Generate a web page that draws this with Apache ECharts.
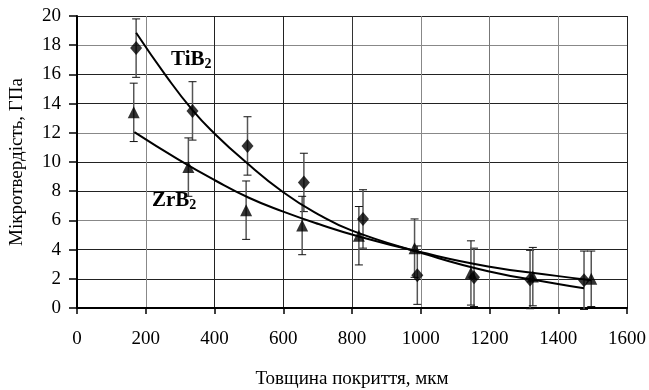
<!DOCTYPE html>
<html>
<head>
<meta charset="utf-8">
<script src="https://cdn.jsdelivr.net/npm/echarts@6/dist/echarts.min.js"></script>
<style>
  html, body { margin: 0; padding: 0; background: #fff; }
  #chart { width: 649px; height: 390px; }
</style>
</head>
<body>
<div id="chart"></div>
<script>
// measured points (diamonds = TiB2, triangles = ZrB2)
const tibX = [172, 336, 496, 660, 832, 990, 1155, 1318, 1475];
const tibY = [17.8, 13.5, 11.1, 8.6, 6.1, 2.25, 2.1, 1.95, 1.9];
const tibErr = [2, 2, 2, 2, 2, 2, 2, 2, 2];

const zrbX = [165, 324, 492, 655, 820, 982, 1146, 1326, 1496];
const zrbY = [13.4, 9.65, 6.7, 5.65, 4.95, 4.1, 2.4, 2.15, 2.0];
const zrbErr = [2, 2, 2, 2, 2, 2, 2.2, 2, 1.9];

// trend curves
const tibTrendX = [172, 259, 336, 400, 486, 600, 703, 800, 995, 1196, 1395, 1475];
const tibTrendY = [18.85, 15.9, 13.55, 11.95, 10.1, 7.93, 6.4, 5.3, 3.82, 2.52, 1.66, 1.35];
const zrbTrendX = [167, 293, 401, 500, 600, 703, 820, 995, 1196, 1395, 1496];
const zrbTrendY = [12.05, 10.2, 8.75, 7.55, 6.6, 5.75, 4.9, 3.85, 2.85, 2.2, 1.9];

const xTicks = [0, 1600, 200];
const yTicks = [0, 20, 2];

const FONT = "'Liberation Serif', 'Times New Roman', serif";

const zip = (xs, ys) => xs.map((x, i) => [x, ys[i]]);
const errData = (xs, ys, es) => xs.map((x, i) => [x, ys[i] - es[i], ys[i] + es[i]]);

function renderErr(params, api) {
  const x = api.value(0);
  const lo = api.coord([x, api.value(1)]);
  const hi = api.coord([x, api.value(2)]);
  const cap = 4;
  return {
    type: "group",
    children: [
      { type: "line", shape: { x1: lo[0], y1: lo[1], x2: hi[0], y2: hi[1] },
        style: { stroke: "#555", lineWidth: 1.5 } },
      { type: "line", shape: { x1: lo[0] - cap, y1: lo[1], x2: lo[0] + cap, y2: lo[1] },
        style: { stroke: "#111", lineWidth: 1 } },
      { type: "line", shape: { x1: hi[0] - cap, y1: hi[1], x2: hi[0] + cap, y2: hi[1] },
        style: { stroke: "#111", lineWidth: 1 } },
    ],
  };
}

const chart = echarts.init(document.getElementById("chart"));

chart.setOption({
  animation: false,
  grid: { left: 77, right: 22, top: 16, bottom: 82, containLabel: false, outerBoundsMode: "none" },
  xAxis: {
    type: "value",
    min: xTicks[0],
    max: xTicks[1],
    interval: xTicks[2],
    name: "Товщина покриття, мкм",
    nameLocation: "middle",
    nameGap: 62,
    nameTextStyle: { fontFamily: FONT, fontSize: 19, color: "#000" },
    axisLine: { show: true, lineStyle: { color: "#000", width: 2 } },
    axisTick: { show: true, length: 6, lineStyle: { color: "#000", width: 1.5 } },
    axisLabel: {
      fontFamily: FONT, fontSize: 19, color: "#000", margin: 22,
      formatter: (v) => String(v),
    },
    splitLine: {
      show: true,
      lineStyle: {
        color: ["#222", "#888", "#222", "#222", "#333", "#888", "#777", "#888", "#222"],
        width: 1,
      },
    },
  },
  yAxis: {
    type: "value",
    min: yTicks[0],
    max: yTicks[1],
    interval: yTicks[2],
    name: "Мікротвердість, ГПа",
    nameLocation: "middle",
    nameGap: 50,
    nameTextStyle: { fontFamily: FONT, fontSize: 19, color: "#000" },
    axisLine: { show: true, lineStyle: { color: "#000", width: 2 } },
    axisTick: { show: true, length: 8, lineStyle: { color: "#000", width: 1.5 } },
    axisLabel: { fontFamily: FONT, fontSize: 19, color: "#000", margin: 16 },
    splitLine: {
      show: true,
      lineStyle: { color: ["#888", "#222", "#222"], width: 1 },
    },
  },
  series: [
    {
      type: "custom",
      renderItem: renderErr,
      data: errData(tibX, tibY, tibErr),
      encode: { x: 0, y: [1, 2] },
      z: 2,
    },
    {
      type: "custom",
      renderItem: renderErr,
      data: errData(zrbX, zrbY, zrbErr),
      encode: { x: 0, y: [1, 2] },
      z: 2,
    },
    {
      name: "TiB2 trend",
      type: "line",
      data: zip(tibTrendX, tibTrendY),
      smooth: 0.5,
      showSymbol: false,
      lineStyle: { color: "#000", width: 2 },
      z: 3,
    },
    {
      name: "ZrB2 trend",
      type: "line",
      data: zip(zrbTrendX, zrbTrendY),
      smooth: 0.5,
      showSymbol: false,
      lineStyle: { color: "#000", width: 2 },
      z: 3,
    },
    {
      name: "TiB2",
      type: "scatter",
      data: zip(tibX, tibY),
      symbol: "diamond",
      symbolSize: [12, 14],
      itemStyle: { color: "#000" },
      z: 4,
    },
    {
      name: "ZrB2",
      type: "scatter",
      data: zip(zrbX, zrbY),
      symbol: "triangle",
      symbolSize: [12, 12],
      itemStyle: { color: "#000" },
      z: 4,
    },
  ],
  graphic: [
    {
      type: "text",
      left: 171,
      top: 49,
      style: {
        text: "{a|TiB}{b|2}",
        rich: {
          a: { fontFamily: FONT, fontWeight: "bold", fontSize: 21, lineHeight: 24, fill: "#000" },
          b: { fontFamily: FONT, fontWeight: "bold", fontSize: 14, verticalAlign: "bottom", fill: "#000" },
        },
      },
    },
    {
      type: "text",
      left: 152,
      top: 190,
      style: {
        text: "{a|ZrB}{b|2}",
        rich: {
          a: { fontFamily: FONT, fontWeight: "bold", fontSize: 21, lineHeight: 24, fill: "#000" },
          b: { fontFamily: FONT, fontWeight: "bold", fontSize: 14, verticalAlign: "bottom", fill: "#000" },
        },
      },
    },
  ],
});

window.addEventListener("resize", () => chart.resize());
</script>
</body>
</html>
